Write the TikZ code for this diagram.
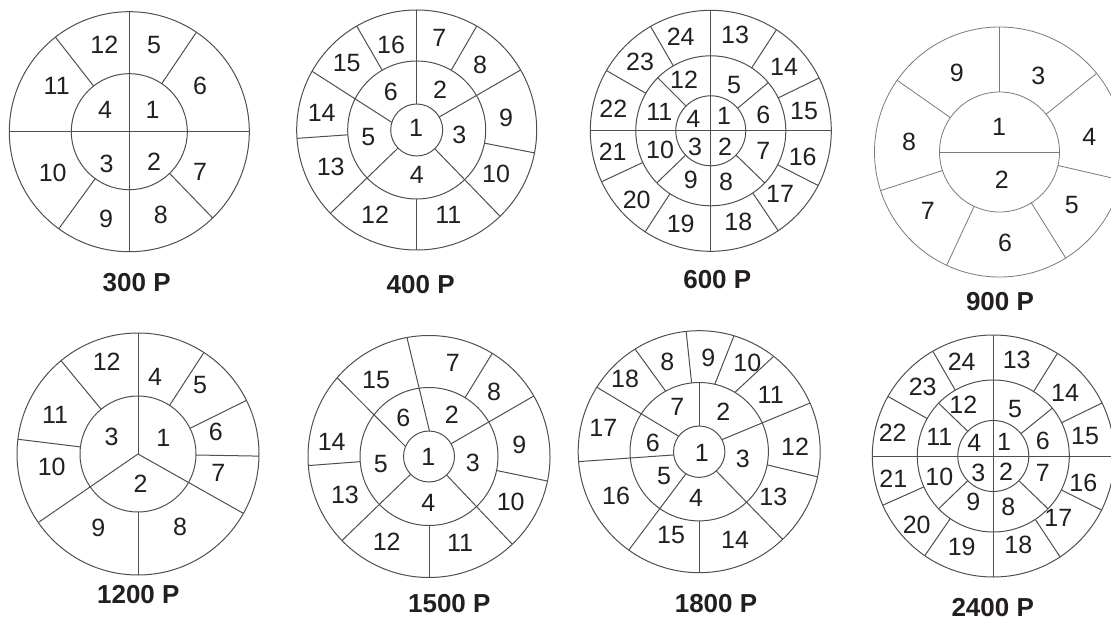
\documentclass[tikz,border=0pt]{standalone}
\usepackage{fontspec}
\setmainfont{Liberation Sans}
\definecolor{ln}{HTML}{4F4F4F}
\definecolor{lnlight}{HTML}{7A7A7A}
\definecolor{txt}{HTML}{231F20}

\begin{document}
\begin{tikzpicture}[
  x=1pt,y=1pt,
  ring/.style={draw=ln,line width=1pt},
  thinring/.style={draw=lnlight,line width=0.8pt},
  num/.style={font=\fontsize{25}{25}\selectfont,text=txt,inner sep=0pt},
  title/.style={font=\fontsize{26}{26}\selectfont\bfseries,text=txt,inner sep=0pt}
]
\clip (0,0) rectangle (1111,-620);

% 300 P
\coordinate (c300) at (129.3,-131.7);
\begin{scope}[shift={(c300)},ring]
  \draw (0,0) circle (120) (0,0) circle (58);
  \draw (-120,0) -- (120,0) (0,-120) -- (0,120);
  \foreach \a in {128,56,-46,-126} \draw (\a:58) -- (\a:120);
\end{scope}
\foreach \x/\y/\t in {104.3/45/12,154/45/5,56.7/86/11,200/86/6,105/110/4,152.7/110/1,
    52.7/172.7/10,106.7/164/3,154/161.7/2,200/171.7/7,106/219.3/9,160.7/215/8}
  \node[num] (p300-\t) at (\x,-\y) {\t};
\node[title] (t300) at (136.7,-282.7) {300 P};

% 400 P
\coordinate (c400) at (416.7,-130);
\begin{scope}[shift={(c400)},ring]
  \draw (0,0) circle (120) (0,0) circle (69) (0,0) circle (26);
  \foreach \a/\b in {90/90,30/30,-46/-46,-136/-136,163/150.7} \draw (\a:26) -- (\b:120);
  \foreach \a in {60,-11,-90,-176,120} \draw (\a:69) -- (\a:120);
\end{scope}
\foreach \x/\y/\t in {391/45/16,439.3/38.3/7,346.7/63.3/15,480/65/8,390.7/91.7/6,440/89.3/2,
    321.7/113.3/14,506/118.3/9,416/128.3/1,368.3/137.3/5,459.3/135/3,330.7/166.7/13,
    496/174/10,416.7/175/4,375/214.3/12,448.3/215/11}
  \node[num] (p400-\t) at (\x,-\y) {\t};
\node[title] (t400) at (420.7,-285) {400 P};

% 600 P
\coordinate (c600) at (710.8,-130.8);
\begin{scope}[shift={(c600)},ring]
  \draw (0,0) circle (120.5) (0,0) circle (75) (0,0) circle (35);
  \draw (-120.5,0) -- (120.5,0) (0,-120.5) -- (0,120.5);
  \foreach \a in {40,-44,-136,135} \draw (\a:35) -- (\a:75);
  \foreach \a in {26,57,120,150,-155,-123,-56,-27} \draw (\a:75) -- (\a:120.5);
\end{scope}
\foreach \x/\y/\t in {680.7/36.7/24,735/35/13,640/61.7/23,784/66.7/14,684/80/12,734/85/5,
    613.3/108.3/22,659.3/111.7/11,693.3/119.3/4,724/116/1,763.3/115/6,804/110.7/15,
    612.7/151.7/21,660/150/10,695/146.7/3,725/146.7/2,763.3/150.7/7,802.7/157.3/16,
    636.7/200/20,690.7/180/9,726/181.7/8,780/194/17,680.7/224/19,738.3/221.7/18}
  \node[num] (p600-\t) at (\x,-\y) {\t};
\node[title] (t600) at (717.3,-280) {600 P};

% 900 P
\coordinate (c900) at (999.5,-152);
\begin{scope}[shift={(c900)},thinring]
  \draw (0,0) circle (125) (0,0) circle (60);
  \draw (-60,0) -- (60,0);
  \foreach \a in {90,39,-13,-58,-115,-162,145} \draw (\a:60) -- (\a:125);
\end{scope}
\foreach \x/\y/\t in {956.7/73.3/9,1038.3/76/3,999/126.7/1,909/141.7/8,1089.3/136.7/4,
    1001.7/180/2,927.7/210.7/7,1071.7/205/5,1005/243.3/6}
  \node[num] (p900-\t) at (\x,-\y) {\t};
\node[title] (t900) at (1000,-301.7) {900 P};

% 1200 P
\coordinate (c1200) at (138,-454);
\begin{scope}[shift={(c1200)},ring]
  \draw (0,0) circle (121) (0,0) circle (58);
  \foreach \a in {90,-29.4,-145.5} \draw (0,0) -- (\a:121);
  \foreach \a in {57,26.3,-1,-90,173,129.5} \draw (\a:58) -- (\a:121);
\end{scope}
\foreach \x/\y/\t in {106.7/361.7/12,155/376.7/4,200/385/5,55/415/11,111.7/436.7/3,
    163.3/437.7/1,215.7/431.7/6,51.7/466.7/10,218.3/473.3/7,140.7/483.3/2,98.3/528.3/9,180/526.7/8}
  \node[num] (p1200-\t) at (\x,-\y) {\t};
\node[title] (t1200) at (138.3,-595) {1200 P};

% 1500 P
\coordinate (c1500) at (429,-456.5);
\begin{scope}[shift={(c1500)},ring]
  \draw (0,0) circle (121) (0,0) circle (69) (0,0) circle (25.5);
  \foreach \a/\b in {89/100.5,30/30,-46.5/-46.5,-136/-136,157/139.4} \draw (\a:25.5) -- (\b:121);
  \foreach \a in {58.5,-11.7,-90,-175.7} \draw (\a:69) -- (\a:121);
\end{scope}
\foreach \x/\y/\t in {452.7/363.3/7,376/380/15,494/391.7/8,403.3/418.3/6,451.7/415/2,
    331.7/441.7/14,519.3/445/9,428.3/456.7/1,380.7/464/5,472.7/462.7/3,345/495/13,
    510.7/501.7/10,428.3/503.3/4,386.7/541.7/12,460/542.7/11}
  \node[num] (p1500-\t) at (\x,-\y) {\t};
\node[title] (t1500) at (449.3,-603.3) {1500 P};

% 1800 P
\coordinate (c1800) at (699.2,-451.7);
\begin{scope}[shift={(c1800)},ring]
  \draw (0,0) circle (121) (0,0) circle (69.2) (0,0) circle (25.7);
  \draw (90:25.7) -- (90:69.2);
  \foreach \a/\b in {28/23.7,-48.5/-46.4,-121/-125.6,-172.7/-175.3,143/147.8} \draw (\a:25.7) -- (\b:121);
  \foreach \a/\b in {119/122,96.3/96.2,77/73.3,59/52,-11/-12,-90/-90} \draw (\a:69.2) -- (\b:121);
\end{scope}
\foreach \x/\y/\t in {667.3/361.7/8,708.3/357.7/9,747.3/363.3/10,625/379.3/18,770.7/395/11,
    677.3/407.3/7,723.3/411.7/2,603.3/428.3/17,795/446.7/12,652.7/442.7/6,701.7/452.7/1,
    742.7/459.3/3,664/476/5,616/496/16,773.3/496.7/13,696/498.3/4,671/535/15,735/540/14}
  \node[num] (p1800-\t) at (\x,-\y) {\t};
\node[title] (t1800) at (716,-603.3) {1800 P};

% 2400 P
\coordinate (c2400) at (993.3,-456);
\begin{scope}[shift={(c2400)},ring]
  \draw (0,0) circle (121) (0,0) circle (76) (0,0) circle (35.5);
  \draw (-121,0) -- (121,0) (0,-121) -- (0,121);
  \foreach \a in {39,-44,-136,136} \draw (\a:35.5) -- (\a:76);
  \foreach \a in {58,26,-26.5,-56.5,-124.5,-156,150.5,120} \draw (\a:76) -- (\a:121);
\end{scope}
\foreach \x/\y/\t in {961.7/361.7/24,1016.7/360/13,922.7/387.3/23,1065/393.3/14,963.3/405/12,
    1015/409.3/5,892.7/432.7/22,939.3/436.7/11,974.3/443.3/4,1004/441.7/1,1042.7/440.7/6,
    1085/436/15,893.3/478.3/21,939.3/476.7/10,978.3/472.7/3,1006/471.7/2,1042.7/473.3/7,
    1083.3/482.7/16,916.7/525/20,973.3/501.7/9,1008.3/507.3/8,1058.3/518.3/17,961.7/547.3/19,1018.3/545/18}
  \node[num] (p2400-\t) at (\x,-\y) {\t};
\node[title] (t2400) at (992.7,-607.7) {2400 P};
\end{tikzpicture}
\end{document}
